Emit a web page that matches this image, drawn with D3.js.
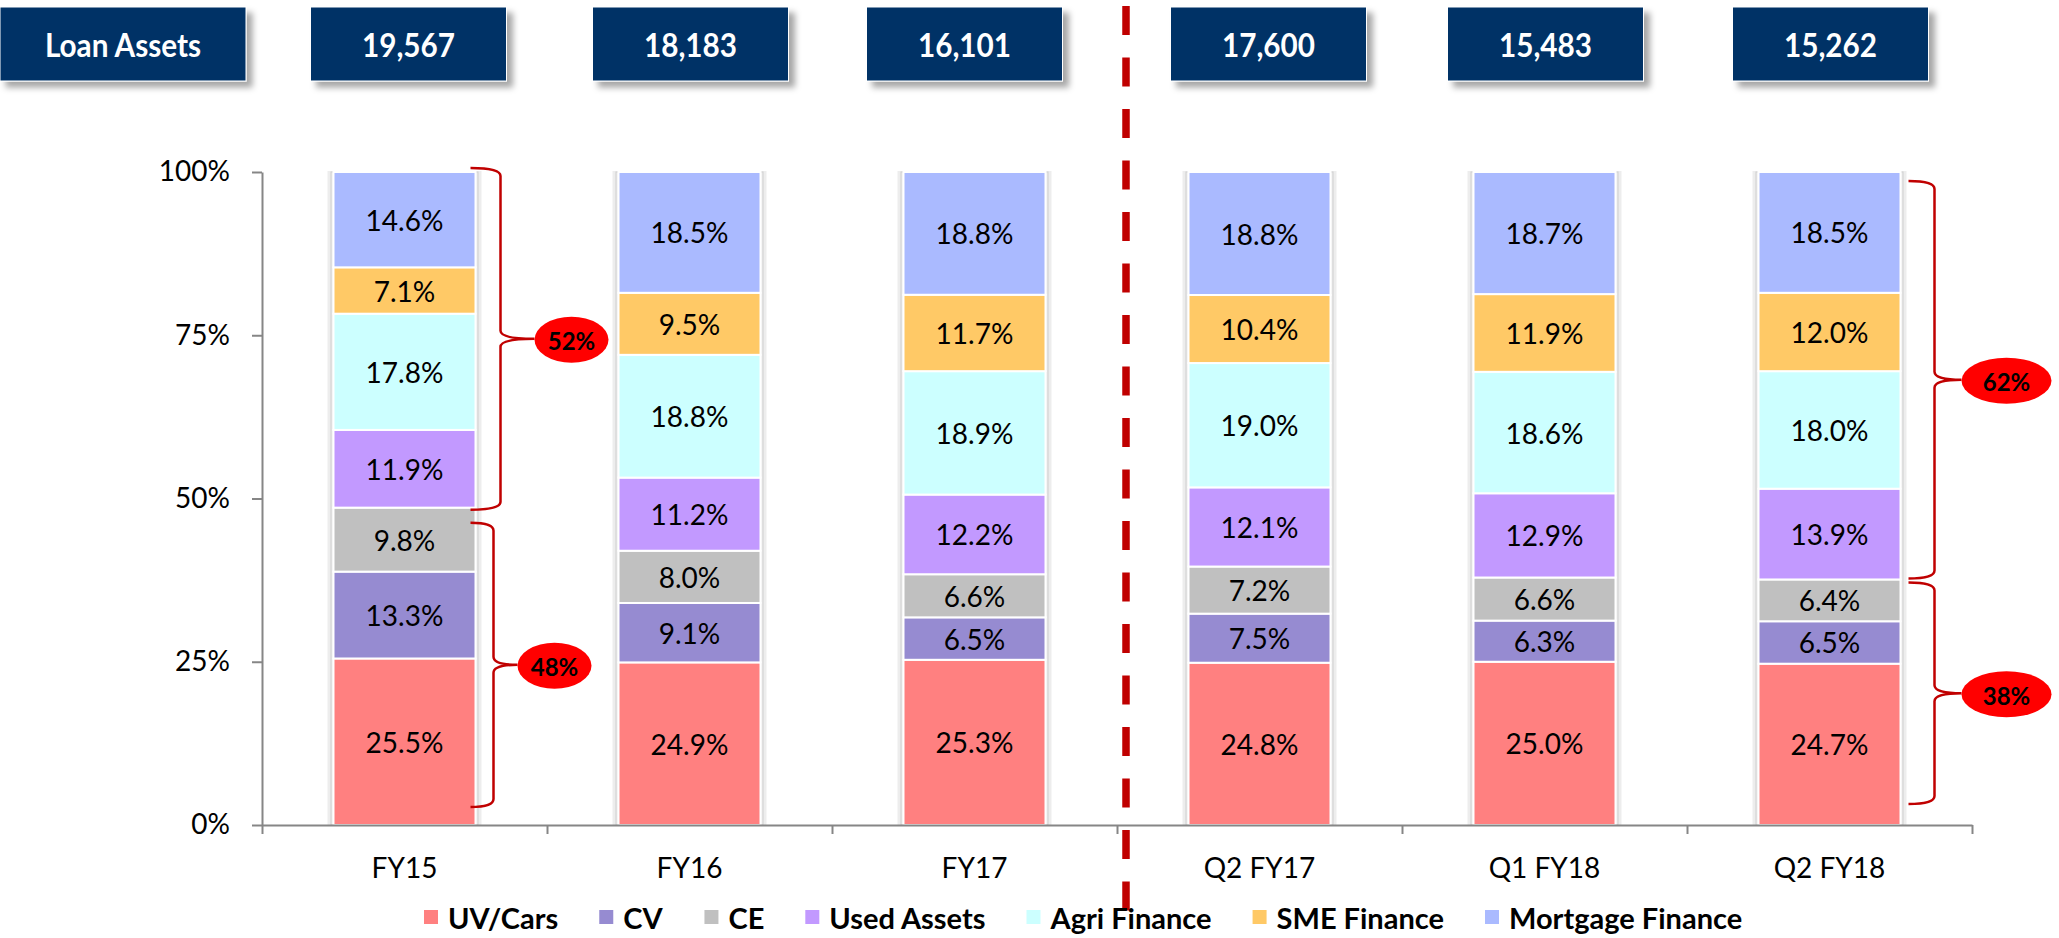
<!DOCTYPE html>
<html>
<head>
<meta charset="utf-8">
<script src="https://cdn.jsdelivr.net/npm/d3@7.9.0/dist/d3.min.js"></script>
<style>
  html, body { margin: 0; padding: 0; background: #fff; }
  svg { display: block; font-family: Lato, "Open Sans", sans-serif; }
</style>
</head>
<body>
<svg id="chart" width="2059" height="938"></svg>
<script>
// chart data
const categories = ["FY15", "FY16", "FY17", "Q2 FY17", "Q1 FY18", "Q2 FY18"];
const loanAssets = ["19,567", "18,183", "16,101", "17,600", "15,483", "15,262"];
const segments = ["UV/Cars", "CV", "CE", "Used Assets", "Agri Finance", "SME Finance", "Mortgage Finance"];

const uvCars    = [25.5, 24.9, 25.3, 24.8, 25.0, 24.7];
const cv        = [13.3, 9.1, 6.5, 7.5, 6.3, 6.5];
const ce        = [9.8, 8.0, 6.6, 7.2, 6.6, 6.4];
const usedAssets = [11.9, 11.2, 12.2, 12.1, 12.9, 13.9];
const agri      = [17.8, 18.8, 18.9, 19.0, 18.6, 18.0];
const sme       = [7.1, 9.5, 11.7, 10.4, 11.9, 12.0];
const mortgage  = [14.6, 18.5, 18.8, 18.8, 18.7, 18.5];

const yTicks = [0, 0.25, 0.5, 0.75, 1];

// brace call-outs: which bar, lower or upper group, label
const braceCats   = ["FY15", "FY15", "Q2 FY18", "Q2 FY18"];
const braceUpper  = [true, false, true, false];
const braceLabels = ["52%", "48%", "62%", "38%"];

const colors = ["#FF8080", "#968BD1", "#C0C0C0", "#C299FF", "#CCFFFF", "#FFC966", "#AABAFF"];

// build rows for the stack
const series = [uvCars, cv, ce, usedAssets, agri, sme, mortgage];
const rows = categories.map((c, i) => {
  const r = { cat: c };
  segments.forEach((s, j) => r[s] = series[j][i]);
  return r;
});

const svg = d3.select("#chart");

const plotLeft = 262, plotRight = 1972, plotTop = 172, plotBottom = 825;

const x = d3.scaleBand().domain(categories).range([plotLeft, plotRight]).paddingInner(0).paddingOuter(0);
const y = d3.scaleLinear().domain([0, 1]).range([plotBottom, plotTop]);
const barW = 142;
const barX = c => x(c) + (x.bandwidth() - barW) / 2;

const stack = d3.stack().keys(segments).offset(d3.stackOffsetExpand);
const stacked = stack(rows);

// drop shadow for header boxes
const defs = svg.append("defs");
const f = defs.append("filter").attr("id", "shadow").attr("x", "-10%").attr("y", "-10%").attr("width", "130%").attr("height", "150%");
f.append("feDropShadow").attr("dx", 6).attr("dy", 6).attr("stdDeviation", 3)
  .attr("flood-color", "#000").attr("flood-opacity", 0.35);

// header boxes (small nudges so they sit like the original slide)
const headerNudge = [4, 1, -10, 9, 1, 1];
const headers = [{ label: "Loan Assets", cx: 123, w: 246 }].concat(
  categories.map((c, i) => ({ label: loanAssets[i], cx: x(c) + x.bandwidth() / 2 + headerNudge[i], w: 196 }))
);
const hdr = svg.append("g").selectAll("g").data(headers).enter().append("g");
hdr.append("rect")
  .attr("x", d => d.cx - d.w / 2)
  .attr("y", 7)
  .attr("width", d => d.w)
  .attr("height", 74)
  .attr("fill", "#003366")
  .attr("stroke", "#fff")
  .attr("stroke-width", 1)
  .attr("filter", "url(#shadow)");
hdr.append("text")
  .attr("transform", d => `translate(${d.cx},44) scale(0.9,1)`)
  .attr("text-anchor", "middle")
  .attr("dominant-baseline", "central")
  .attr("fill", "#fff")
  .attr("font-weight", "bold")
  .attr("font-size", 33)
  .text(d => d.label);

// y axis
const yAxis = svg.append("g")
  .attr("transform", `translate(${plotLeft},0)`)
  .call(d3.axisLeft(y).tickValues(yTicks).tickSize(10).tickSizeOuter(0).tickPadding(22).tickFormat(d3.format(".0%")));
yAxis.select(".domain").attr("stroke", "#868686").attr("stroke-width", 2);
yAxis.selectAll(".tick line").attr("stroke", "#868686").attr("stroke-width", 2);
yAxis.selectAll(".tick text").attr("font-size", 28).attr("fill", "#000").attr("font-family", "Lato");

// bar backdrops
svg.append("g").selectAll("rect").data(categories).enter().append("rect")
  .attr("x", d => barX(d) - 6)
  .attr("y", plotTop - 1)
  .attr("width", barW + 12)
  .attr("height", plotBottom - plotTop + 1)
  .attr("fill", "#ededed");
svg.append("g").selectAll("rect").data(categories).enter().append("rect")
  .attr("x", d => barX(d) - 2.5)
  .attr("y", plotTop)
  .attr("width", barW + 5)
  .attr("height", plotBottom - plotTop)
  .attr("fill", "none")
  .attr("stroke", "#cfcfcf")
  .attr("stroke-width", 1);

// stacked bars
const layer = svg.append("g").selectAll("g").data(stacked).enter().append("g")
  .attr("fill", (d, i) => colors[i]);
layer.selectAll("rect").data(d => d).enter().append("rect")
  .attr("x", d => barX(d.data.cat))
  .attr("y", d => y(d[1]))
  .attr("width", barW)
  .attr("height", d => y(d[0]) - y(d[1]))
  .attr("stroke", "#fff")
  .attr("stroke-width", 2);

// segment labels
const lab = svg.append("g").selectAll("g").data(stacked).enter().append("g");
lab.selectAll("text").data(d => d.map(p => ({ p, key: d.key }))).enter().append("text")
  .attr("x", d => barX(d.p.data.cat) + barW / 2)
  .attr("y", d => (y(d.p[0]) + y(d.p[1])) / 2)
  .attr("text-anchor", "middle")
  .attr("dominant-baseline", "central")
  .attr("font-size", 28)
  .attr("fill", "#000")
  .text(d => d3.format(".1f")(d.p.data[d.key]) + "%");

// x axis
const xLin = d3.scaleLinear().domain([0, categories.length]).range([plotLeft, plotRight]);
const xAxis = svg.append("g")
  .attr("transform", `translate(0,${plotBottom})`)
  .call(d3.axisBottom(xLin).tickValues(d3.range(categories.length + 1)).tickSize(9).tickSizeOuter(0).tickFormat(""));
xAxis.select(".domain").attr("stroke", "#868686").attr("stroke-width", 2);
xAxis.selectAll(".tick line").attr("stroke", "#868686").attr("stroke-width", 2);

const xLabels = svg.append("g")
  .attr("transform", `translate(0,${plotBottom})`)
  .call(d3.axisBottom(x).tickSize(0).tickPadding(0));
xLabels.select(".domain").remove();
xLabels.selectAll(".tick text")
  .attr("y", 42)
  .attr("dy", null)
  .attr("dominant-baseline", "central")
  .attr("font-size", 28)
  .attr("fill", "#000")
  .attr("font-family", "Lato");

// red dashed separator between yearly and quarterly bars
svg.append("line")
  .attr("x1", xLin(3) + 9).attr("x2", xLin(3) + 9)
  .attr("y1", 6).attr("y2", 912)
  .attr("stroke", "#C00000")
  .attr("stroke-width", 7.5)
  .attr("stroke-dasharray", "29 22.5");

// braces
const braceLayout = [
  { t: -4, b: 2,   x0: -5, xv: 25, ex: 96,  rx: 37 },
  { t: 15, b: -18, x0: -5, xv: 18, ex: 79,  rx: 37 },
  { t: 9,  b: -1,  x0: 8,  xv: 34, ex: 106, rx: 45 },
  { t: 3,  b: -21, x0: 8,  xv: 34, ex: 106, rx: 45 }
];
braceCats.forEach((c, i) => {
  const idx = categories.indexOf(c);
  const total = d3.sum(series, s => s[idx]);
  const split = (uvCars[idx] + cv[idx] + ce[idx]) / total;
  const L = braceLayout[i];
  const xr = barX(c) + barW;
  const yT = (braceUpper[i] ? y(1) : y(split)) + L.t;
  const yB = (braceUpper[i] ? y(split) : y(0)) + L.b;
  const ym = (yT + yB) / 2;
  const x0 = xr + L.x0, xv = xr + L.xv, xt = xr + L.ex - L.rx;
  const r = 8;
  const path = `M${x0},${yT} Q${xv},${yT} ${xv},${yT + r} L${xv},${ym - r} Q${xv},${ym} ${xt},${ym} ` +
               `Q${xv},${ym} ${xv},${ym + r} L${xv},${yB - r} Q${xv},${yB} ${x0},${yB}`;
  svg.append("path").attr("d", path).attr("fill", "none").attr("stroke", "#C00000").attr("stroke-width", 2.5);
  svg.append("ellipse")
    .attr("cx", xr + L.ex).attr("cy", ym + 1)
    .attr("rx", L.rx).attr("ry", 23)
    .attr("fill", "#FF0000");
  svg.append("text")
    .attr("x", xr + L.ex).attr("y", ym + 2)
    .attr("text-anchor", "middle")
    .attr("dominant-baseline", "central")
    .attr("font-size", 24)
    .attr("font-weight", "bold")
    .attr("fill", "#000")
    .text(braceLabels[i]);
});

// legend: swatch, label, fixed gap between entries
const legend = svg.append("g");
const items = legend.selectAll("g").data(segments).enter().append("g");
items.append("rect").attr("width", 14).attr("height", 14).attr("y", -7).attr("fill", (d, i) => colors[i]);
items.append("text")
  .attr("x", 24)
  .attr("dominant-baseline", "central")
  .attr("font-size", 29)
  .attr("font-weight", "bold")
  .attr("fill", "#000")
  .text(d => d);
const widths = [];
items.each(function () { widths.push(this.getBBox().width); });
const legGap = 41;
let cx = 424;
items.attr("transform", (d, i) => {
  const t = `translate(${cx},917)`;
  cx += widths[i] + legGap;
  return t;
});
</script>
</body>
</html>
